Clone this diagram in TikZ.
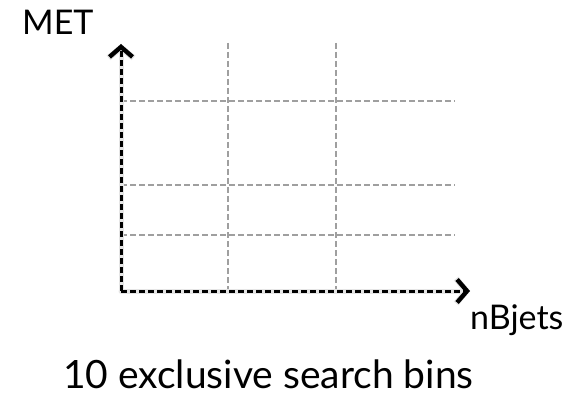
\documentclass[tikz,border=0pt]{standalone}
\usepackage{fontspec}
\setmainfont{Lato}
\usetikzlibrary{positioning,arrows.meta}

\begin{document}
\begin{tikzpicture}[x=1pt,y=-1pt,
    grid/.style={gray!75,line width=2.2pt,dash pattern=on 6pt off 3pt},
    axis/.style={black,line width=3pt,dash pattern=on 6pt off 3pt,-{Straight Barb[length=10pt,width=23pt,line width=4.4pt]}},
    sombra/.style={black!10,line width=5pt,line cap=round,-{Straight Barb[length=10pt,width=25pt,line width=6pt]}},
    lbl/.style={inner sep=0pt,anchor=base west,font=\fontsize{34}{36}\selectfont}]
    \useasboundingbox (0,0) rectangle (574,404);
    % origem e pontas dos eixos
    \coordinate (o) at (121,291);
    \coordinate (ytop) at (121,44);
    \coordinate (xend) at (470,291);
    % grade das caixas
    \foreach \x in {228,336} {\draw[grid] (\x,43) -- (\x,291);}
    \foreach \y in {101,185,235} {\draw[grid] (121,\y) -- (455,\y);}
    % sombra leve e eixos
    \begin{scope}[shift={(1.5,3)}]
        \draw[sombra] (o) -- (ytop);
        \draw[sombra] (o) -- (xend);
    \end{scope}
    \draw[axis] (o) -- (ytop);
    \draw[axis] (o) -- (xend);
    % rotulos
    \node[lbl] (met) at (22,35) {MET};
    \node[lbl] (nb) at (470,329) {nBjets};
    \node[lbl,font=\fontsize{39}{41}\selectfont] (bins) at (63,388) {10 exclusive search bins};
\end{tikzpicture}
\end{document}
